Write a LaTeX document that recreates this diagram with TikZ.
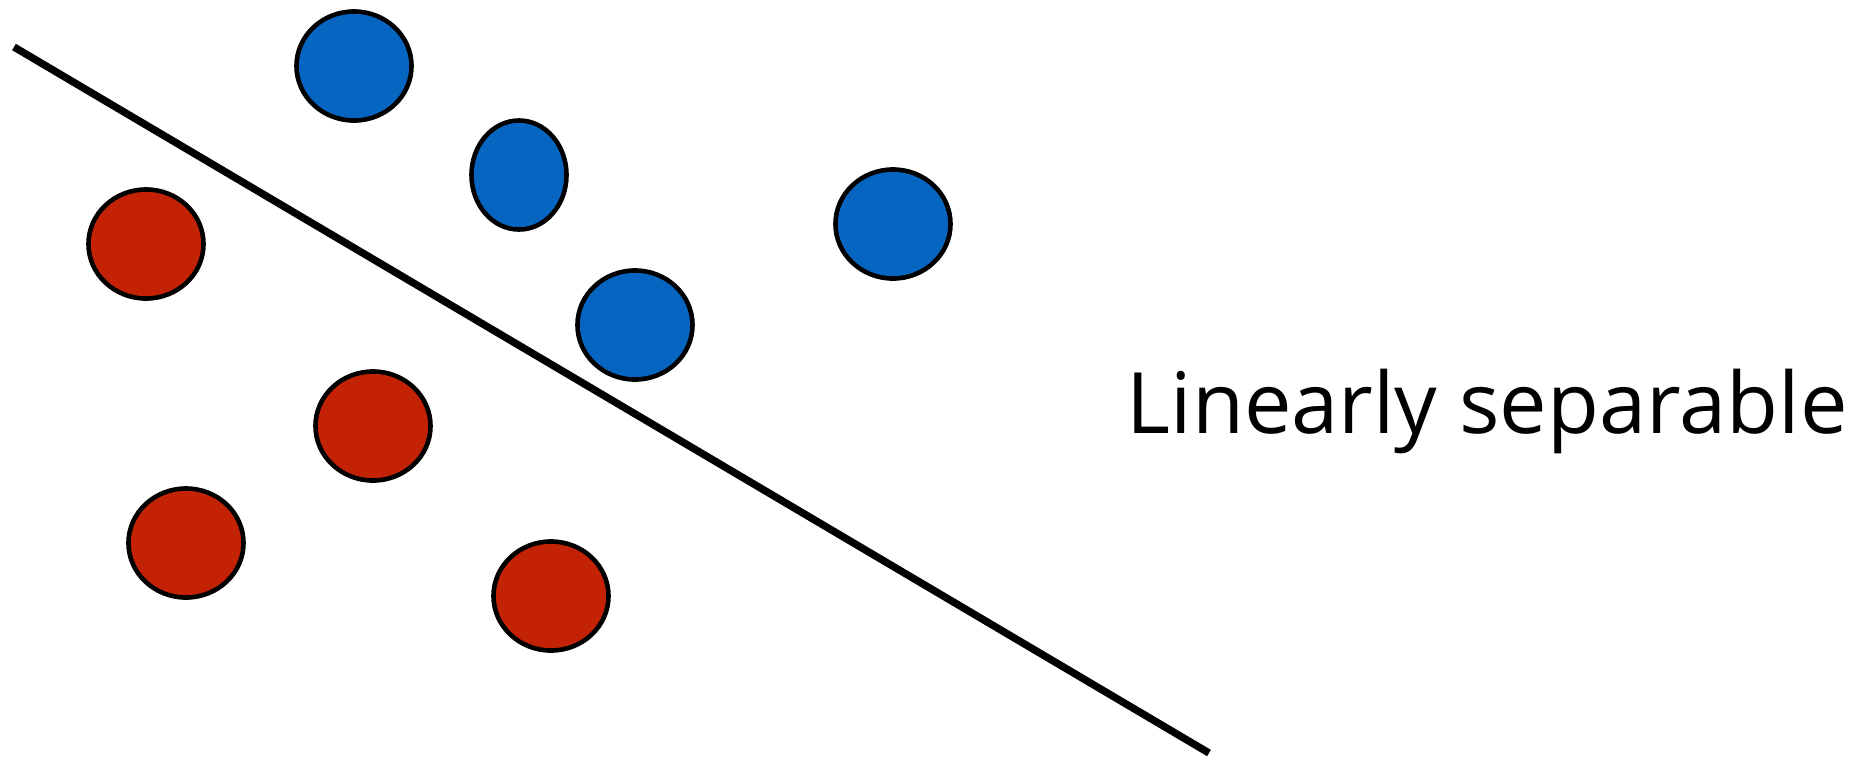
\documentclass[tikz,border=0pt]{standalone}
\usepackage{fontspec}
\setmainfont{Open Sans}
\usetikzlibrary{shapes.geometric}
\definecolor{dotblue}{RGB}{5,101,192}
\definecolor{dotred}{RGB}{196,34,5}
\tikzset{
  dot/.style={ellipse, draw=black, line width=1.3pt, inner sep=0pt,
    minimum width=1.15cm, minimum height=1.09cm},
  bluedot/.style={dot, fill=dotblue},
  reddot/.style={dot, fill=dotred},
  narrowdot/.style={minimum width=0.95cm}
}
\begin{document}
\begin{tikzpicture}[x=0.01cm,y=-0.01cm]
\useasboundingbox (0,0) rectangle (1859,757);
% separating line
\coordinate (lstart) at (14,47);
\coordinate (lend) at (1209,753);
\draw[line width=2.1pt] (lstart) -- (lend);
% class A points
\node[bluedot] (b1) at (354,66) {};
\node[bluedot,narrowdot] (b2) at (519,175) {};
\node[bluedot] (b3) at (893,224) {};
\node[bluedot] (b4) at (635,325) {};
% class B points
\node[reddot] (r1) at (146,244) {};
\node[reddot] (r2) at (373,426) {};
\node[reddot] (r3) at (186,543) {};
\node[reddot] (r4) at (551,596) {};
% label
\node[anchor=base west, inner sep=0pt, font=\fontsize{24.1}{28}\selectfont] (lbl) at (1126,433) {Linearly separable};
\end{tikzpicture}
\end{document}
